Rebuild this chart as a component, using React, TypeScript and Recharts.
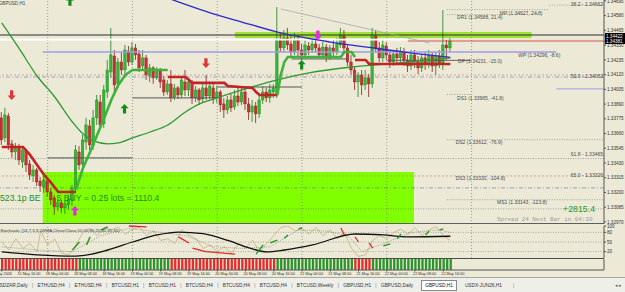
import React from 'react';
import { ComposedChart, Bar, Line, XAxis, YAxis, ReferenceLine, ReferenceArea, ReferenceDot, Cell } from 'recharts';

const BG = '#ECEAD6';
const FONT = '"Liberation Sans", Arial, sans-serif';
const MONO = '"Liberation Mono", "DejaVu Sans Mono", monospace';
const SLOTS = 171;
const XDOM: [number, number] = [-0.5, 170.5];
const PRICE_DOM: [number, number] = [1.32954, 1.34702];

// ---- candles (GBPUSD H1) ----
const opens = [1.33782,1.33626,1.33797,1.33579,1.33516,1.33555,1.33438,1.33524,1.33423,1.33329,
 1.33376,1.33290,1.33243,1.33290,1.33204,1.33158,1.33087,1.33119,1.33080,1.33103,
 1.33142,1.33228,1.33516,1.33423,1.33594,1.33719,1.33563,1.33782,1.33906,1.33735,
 1.33984,1.34140,1.34265,1.34047,1.34218,1.34156,1.34304,1.34218,1.34328,1.34281,
 1.34187,1.34250,1.34109,1.34172,1.34094,1.34148,1.34078,1.33984,1.34047,1.33945,
 1.34016,1.33961,1.34062,1.34000,1.34062,1.33938,1.34000,1.33930,1.34016,1.33953,
 1.34016,1.33938,1.33984,1.33891,1.33844,1.33922,1.33867,1.33953,1.33906,1.33984,
 1.33891,1.33828,1.33875,1.33813,1.33922,1.33984,1.33938,1.33984,1.33961,1.34390,
 1.34328,1.34406,1.34359,1.34296,1.34390,1.34312,1.34273,1.34343,1.34312,1.34359,
 1.34328,1.34273,1.34335,1.34265,1.34328,1.34296,1.34351,1.34421,1.34328,1.34218,
 1.34156,1.34062,1.34117,1.34039,1.34094,1.34047,1.34421,1.34328,1.34250,1.34343,
 1.34273,1.34218,1.34281,1.34250,1.34296,1.34234,1.34187,1.34273,1.34218,1.34172,
 1.34250,1.34203,1.34265,1.34187,1.34265,1.34203,1.34351,1.34328];
const closes = [1.33610,1.33805,1.33571,1.33516,1.33563,1.33454,1.33532,1.33415,1.33337,1.33376,
 1.33282,1.33251,1.33298,1.33204,1.33142,1.33087,1.33119,1.33080,1.33111,1.33150,
 1.33236,1.33532,1.33415,1.33610,1.33727,1.33571,1.33782,1.33922,1.33727,1.34000,
 1.34156,1.34273,1.34039,1.34218,1.34156,1.34312,1.34218,1.34328,1.34273,1.34172,
 1.34250,1.34117,1.34172,1.34094,1.34156,1.34062,1.33984,1.34047,1.33938,1.34016,
 1.33961,1.34078,1.34000,1.34062,1.33938,1.34000,1.33922,1.34016,1.33953,1.34031,
 1.33938,1.33984,1.33883,1.33844,1.33922,1.33860,1.33953,1.33906,1.33984,1.33891,
 1.33828,1.33875,1.33813,1.33922,1.33984,1.33938,1.34000,1.34016,1.34390,1.34328,
 1.34406,1.34351,1.34296,1.34390,1.34312,1.34273,1.34351,1.34312,1.34359,1.34328,
 1.34273,1.34335,1.34265,1.34328,1.34296,1.34359,1.34429,1.34328,1.34218,1.34156,
 1.34062,1.34117,1.34039,1.34094,1.34047,1.34429,1.34328,1.34250,1.34351,1.34273,
 1.34218,1.34281,1.34250,1.34296,1.34234,1.34187,1.34273,1.34218,1.34172,1.34250,
 1.34203,1.34273,1.34187,1.34265,1.34203,1.34351,1.34328,1.34382];
const highs = [1.33828,1.33860,1.33821,1.33610,1.33587,1.33579,1.33548,1.33540,1.33454,1.33415,
 1.33392,1.33321,1.33329,1.33314,1.33236,1.33181,1.33150,1.33142,1.33142,1.33181,
 1.33259,1.33571,1.33563,1.33649,1.33782,1.33766,1.33844,1.33961,1.33961,1.34039,
 1.34234,1.34484,1.34312,1.34250,1.34296,1.34351,1.34343,1.34374,1.34359,1.34312,
 1.34312,1.34273,1.34203,1.34187,1.34179,1.34172,1.34109,1.34078,1.34156,1.34047,
 1.34031,1.34109,1.34156,1.34094,1.34078,1.34031,1.34016,1.34047,1.34117,1.34062,
 1.34047,1.34031,1.34000,1.33938,1.33953,1.33969,1.34000,1.34016,1.34031,1.34016,
 1.33938,1.33922,1.33906,1.33953,1.34031,1.34016,1.34047,1.34047,1.34647,1.34445,
 1.34468,1.34484,1.34421,1.34445,1.34429,1.34359,1.34390,1.34374,1.34390,1.34406,
 1.34359,1.34374,1.34359,1.34351,1.34390,1.34406,1.34484,1.34468,1.34359,1.34273,
 1.34187,1.34140,1.34156,1.34156,1.34125,1.34484,1.34468,1.34374,1.34390,1.34374,
 1.34312,1.34312,1.34328,1.34335,1.34328,1.34273,1.34312,1.34312,1.34265,1.34281,
 1.34296,1.34312,1.34296,1.34296,1.34312,1.34624,1.34390,1.34406];
const lows = [1.33571,1.33594,1.33532,1.33470,1.33454,1.33415,1.33392,1.33360,1.33298,1.33282,
 1.33251,1.33204,1.33197,1.33165,1.33103,1.33025,1.33056,1.33041,1.33033,1.33064,
 1.33095,1.33204,1.33376,1.33392,1.33532,1.33532,1.33532,1.33727,1.33704,1.33704,
 1.33938,1.34094,1.33984,1.34016,1.34117,1.34125,1.34187,1.34195,1.34234,1.34140,
 1.34156,1.34078,1.34062,1.34047,1.34078,1.34016,1.33953,1.33961,1.33906,1.33922,
 1.33930,1.33938,1.33953,1.33953,1.33891,1.33906,1.33883,1.33899,1.33922,1.33930,
 1.33891,1.33899,1.33828,1.33782,1.33813,1.33828,1.33844,1.33875,1.33883,1.33844,
 1.33766,1.33750,1.33743,1.33782,1.33891,1.33906,1.33899,1.33938,1.33938,1.34296,
 1.34296,1.34312,1.34265,1.34273,1.34250,1.34234,1.34250,1.34273,1.34289,1.34296,
 1.34250,1.34250,1.34218,1.34234,1.34265,1.34273,1.34328,1.34296,1.34187,1.34117,
 1.34000,1.33945,1.33961,1.34000,1.33945,1.34016,1.34296,1.34218,1.34218,1.34234,
 1.34172,1.34187,1.34211,1.34218,1.34187,1.34140,1.34156,1.34172,1.34125,1.34140,
 1.34156,1.34172,1.34140,1.34117,1.34172,1.34156,1.34234,1.34296];

// ---- indicator lines (bar index, price) ----
const slowMa: [number, number][] = [[0,1.34523],[5,1.34320],[10,1.34109],[15,1.33945],[20,1.33750],[23,1.33657],[26,1.33602],[30,1.33579],[33,1.33587],[37,1.33626],[42,1.33672],[47,1.33727],[52,1.33828],[56,1.33891],[61,1.33938],[68,1.34000],[78,1.34078],[87,1.34133],[99,1.34179],[115,1.34218],[127,1.34250]];
const blueMa: [number, number][] = [[44,1.34749],[52,1.34667],[59,1.34601],[68,1.34530],[79,1.34445],[93,1.34374],[104,1.34332],[115,1.34292],[127,1.34255]];
const trendLine: [number, number][] = [[79,1.34632],[121,1.34367]];
const trailRedA: [number, number][] = [[0,1.33555],[6,1.33555],[8,1.33493],[10,1.33415],[12,1.33337],[14,1.33275],[16,1.33204],[21,1.33204]];
const trailGreenB: [number, number][] = [[21,1.33220],[23,1.33392],[25,1.33516],[27,1.33649],[29,1.33782],[31,1.33922],[33,1.34039],[35,1.34117],[37,1.34156],[47,1.34156]];
const trailRedC: [number, number][] = [[47,1.34101],[52,1.34101],[53,1.34078],[54,1.34055],[63,1.34055],[64,1.34031],[71,1.34016],[72,1.33984],[73,1.33961],[78,1.33961]];
const trailGreenD: [number, number][] = [[78,1.33961],[79,1.34117],[80,1.34218],[81,1.34257],[96,1.34257],[97,1.34296],[99,1.34296],[100,1.34257]];
const trailRedE: [number, number][] = [[100,1.34234],[103,1.34234],[104,1.34203],[127,1.34203]];

// ---- arrows (bar, price) ----
const greenUpArrows: [number, number][] = [[19.3,1.34694],[34.75,1.33852],[84.9,1.34195]];
const redDownArrows: [number, number][] = [[2.8,1.33961],[57.8,1.34211]];
const magentaDownArrows: [number, number][] = [[89.5,1.34429]];
const magentaUpArrows: [number, number][] = [[20.7,1.33056]];

// ---- axis ticks ----
const priceTicks = [1.32970,1.33085,1.33200,1.33315,1.33430,1.33545,1.33660,1.33775,1.33890,1.34005,1.34120,1.34235,1.34350,1.34465,1.34580,1.34695];
const boxedPrices = [1.34422, 1.34381];
const dayBreaks = [13, 37, 61, 85, 109, 133];
const timeTickBars = [0,5,13,21,29,37,45,53,61,69,77,85,93,101,109,117,125];
const timeTickLabels = ['15 May 2026','15 May 16:00','18 May 00:00','18 May 08:00','18 May 16:00','19 May 00:00','19 May 08:00','19 May 16:00','20 May 00:00','20 May 08:00','20 May 16:00','21 May 00:00','21 May 08:00','21 May 16:00','22 May 00:00','22 May 08:00','22 May 16:00'];
const oscTicks = [20, 50, 80, 100];

// ---- oscillator (bar, value 0..100) ----
const stochMain: [number, number][] = [[0,50],[2,25],[4,60],[6,30],[8,45],[10,20],[11,85],[13,40],[15,60],[17,15],[19,10],[21,40],[23,80],[25,92],[27,70],[29,95],[31,88],[33,96],[35,75],[37,90],[39,96],[41,70],[43,85],[45,55],[47,60],[49,45],[51,88],[53,72],[55,60],[57,30],[59,40],[61,20],[63,35],[65,15],[67,45],[69,30],[71,55],[73,20],[75,45],[77,70],[79,95],[81,100],[83,85],[85,92],[87,75],[89,95],[91,70],[93,88],[95,60],[97,80],[99,30],[101,5],[103,10],[105,55],[107,70],[109,60],[111,80],[113,90],[115,75],[117,95],[119,70],[121,88],[123,98],[125,70],[127,55]];
const stochSignal: [number, number][] = [[0,35],[10,25],[20,20],[28,70],[36,92],[44,82],[52,70],[60,35],[68,30],[76,35],[84,88],[92,84],[98,70],[102,20],[108,45],[116,80],[124,88],[127,80]];
const cycleLine: [number, number][] = [[0,19],[10,10],[21,6],[30,25],[37,50],[44,72],[50,81],[57,76],[64,55],[70,32],[75,19],[80,25],[88,41],[100,75],[108,72],[115,66],[127,68]];
const oscRedSegs: [number, number, number, number][] = [[36,100,41,97],[50,66,53,47],[54,31,58,19],[58,20,66,12],[96,94,97,72],[100,66,101,50],[104,47,105,31]];
const oscGreenSegs: [number, number, number, number][] = [[20,25,22,50],[24,41,25,66],[28,87,30,97],[72,12,74,41],[76,47,78,56],[80,62,81,72],[84,91,85,94],[108,38,110,44],[112,60,113,75],[120,72,121,84],[124,88,125,91]];

// ---- trend histogram runs (direction, bars) ----
const trendRuns: [number, number][] = [[-1,22],[1,26],[-1,30],[1,22],[-1,5],[1,23]];

// ---- tabs ----
const tabLabels = ['USDZAR,Daily','ETHUSD,H4','ETHUSD,H4','BTCUSD,H1','BTCUSD,H1','BTCUSD,H4','BTCUSD,H4','BTCUSD,H4','BTCUSD,Weekly','GBPUSD,H1','GBPUSD,Daily','GBPUSD,H1','USDX-JUN26,H1'];
const activeTab = 11;

// ---- build tables ----
const put = (rows: any[], key: string, pts: [number, number][]) => pts.forEach(([b, v]) => { rows[b][key] = v; });
const mainRows: any[] = [];
for (let i = 0; i < SLOTS; i++) {
  const r: any = { i };
  if (i < opens.length) { r.o = opens[i]; r.h = highs[i]; r.l = lows[i]; r.c = closes[i]; r.range = [lows[i], highs[i]]; }
  mainRows.push(r);
}
put(mainRows, 'ma', slowMa);
put(mainRows, 'blue', blueMa);
put(mainRows, 'tl', trendLine);
put(mainRows, 'trA', trailRedA);
put(mainRows, 'trB', trailGreenB);
put(mainRows, 'trC', trailRedC);
put(mainRows, 'trD', trailGreenD);
put(mainRows, 'trE', trailRedE);

const oscRows: any[] = [];
for (let i = 0; i < SLOTS; i++) oscRows.push({ i });
put(oscRows, 'st', stochMain);
put(oscRows, 'sg', stochSignal);
put(oscRows, 'cy', cycleLine);

const trendByBar: number[] = trendRuns.flatMap(([d, n]) => Array(n).fill(d));
const histRows: any[] = [];
for (let i = 0; i < SLOTS; i++) histRows.push({ i, hv: i < trendByBar.length ? 1 : undefined });

// ---- shapes ----
const Candle = (props: any) => {
  const { x, y, width, height, payload } = props;
  if (!payload || payload.o == null) return null;
  const { o, h, l, c } = payload;
  const top = Math.min(y, y + height);
  const hh = Math.abs(height);
  const span = h - l || 1e-9;
  const toY = (p: number) => top + ((h - p) / span) * hh;
  const up = c >= o;
  const cx = x + width / 2;
  const bTop = toY(Math.max(o, c));
  const bBot = toY(Math.min(o, c));
  const edge = up ? '#1e7d1e' : '#8a1d1d';
  return (
    <g>
      <line x1={cx} x2={cx} y1={top} y2={top + hh} stroke={edge} strokeWidth={0.8} />
      <rect x={x} y={bTop} width={width} height={Math.max(bBot - bTop, 0.8)} fill={up ? '#34b834' : '#c63030'} stroke={edge} strokeWidth={0.35} />
    </g>
  );
};

const arrowShape = (dir: 'up' | 'down', color: string) => (p: any) => {
  const s = dir === 'up' ? 1 : -1;
  const pts = [[0, -5], [4, -0.6], [1.6, -0.6], [1.6, 4.6], [-1.6, 4.6], [-1.6, -0.6], [-4, -0.6]]
    .map(([px, py]) => `${p.cx + px},${p.cy + py * s}`).join(' ');
  return <polygon points={pts} fill={color} />;
};

const textShape = (text: string, o: any) => (p: any) => (
  <text x={p.cx + (o.dx || 0)} y={p.cy + (o.dy || 0)} fontSize={o.size || 5} fill={o.color || '#4a4a4a'}
    textAnchor={o.anchor || 'start'} fontFamily={o.mono ? MONO : FONT}>{text}</text>
);

const PriceTick = (props: any) => {
  const { x, y, payload } = props;
  const v = payload.value;
  if (boxedPrices.includes(v)) {
    return (
      <g>
        <rect x={x - 2} y={y - 2.9} width={20} height={5.8} fill="#000" />
        <text x={x - 1} y={y + 1.7} fontSize={4.6} fill="#fff" fontFamily={FONT}>{v.toFixed(5)}</text>
      </g>
    );
  }
  return <text x={x} y={y + 1.7} fontSize={4.6} fill="#333" fontFamily={FONT}>{v.toFixed(5)}</text>;
};

const OscTick = (props: any) => {
  const { x, y, payload } = props;
  return <text x={x} y={y + 1.7} fontSize={4.6} fill="#333" fontFamily={FONT}>{payload.value}</text>;
};

const TimeTick = (props: any) => {
  const { x, y, payload } = props;
  const idx = timeTickBars.indexOf(payload.value);
  const first = idx === 0;
  return (
    <text x={first ? x + 10.2 : x - 2} y={y + 3.4} textAnchor={first ? 'end' : 'start'} fontSize={3.8} fill="#333" fontFamily={FONT}>
      {timeTickLabels[idx]}
    </text>
  );
};

const seg = (key: string, b1: number, b2: number, p: number, stroke: string, w: number, dash?: string) => (
  <ReferenceLine key={key} segment={[{ x: b1, y: p }, { x: b2, y: p }]} stroke={stroke} strokeWidth={w} strokeDasharray={dash} />
);

export default function App() {
  const dotGray = '#6f6f6f';
  return (
    <div style={{ position: 'absolute', left: 0, top: 0, width: 625, height: 292, background: BG, overflow: 'hidden', fontFamily: FONT }}>
      {/* main price panel */}
      <div style={{ position: 'absolute', left: 0, top: 0 }}>
        <ComposedChart width={625} height={224} data={mainRows} margin={{ top: 0, right: 0, bottom: 0, left: 0 }}>
          <XAxis dataKey="i" type="number" domain={XDOM} allowDataOverflow hide />
          <YAxis orientation="right" width={21} domain={PRICE_DOM} allowDataOverflow ticks={[...priceTicks, ...boxedPrices]}
            interval={0} tick={<PriceTick />} tickSize={2} tickMargin={1} axisLine={{ stroke: '#555' }} tickLine={{ stroke: '#555' }} />
          <ReferenceArea x1={11.6} x2={116.7} y1={1.32954} y2={1.33360} fill="#7FFF00" fillOpacity={1} stroke="none" />
          <ReferenceArea x1={66} x2={150} y1={1.34405} y2={1.34452} fill="#9FE236" fillOpacity={1} stroke="none" />
          {dayBreaks.map((b) => <ReferenceLine key={'v' + b} x={b} stroke="#7a7a7a" strokeWidth={0.7} strokeDasharray="1 2" />)}
          <ReferenceLine y={1.34429} stroke="#2d2d2d" strokeWidth={1.2} />
          <ReferenceLine y={1.34117} stroke="#c77a7a" strokeWidth={0.6} strokeDasharray="2 2" />
          <ReferenceLine y={1.34101} stroke="#6a6ab0" strokeWidth={0.6} strokeDasharray="4 2 1 2" />
          <ReferenceLine y={1.33465} stroke={dotGray} strokeWidth={0.6} strokeDasharray="1 1.5" />
          <ReferenceLine y={1.33329} stroke="#c77a7a" strokeWidth={0.6} strokeDasharray="2 2" />
          <ReferenceLine y={1.33236} stroke="#6a6ab0" strokeWidth={0.6} strokeDasharray="4 2 1 2" />
          <ReferenceLine y={1.33072} stroke={dotGray} strokeWidth={0.6} strokeDasharray="1 1.5" />
          {seg('white', -0.5, 115, 1.34393, '#ffffff', 1.6)}
          {seg('bid', 115, 170.5, 1.34382, '#d03030', 0.8)}
          {seg('wp', 11.6, 157, 1.34296, '#9c9ce8', 1.5)}
          {seg('wp2', 157, 170.5, 1.34008, '#9c9ce8', 1)}
          {seg('f382', 155, 170.5, 1.34662, dotGray, 0.6, '1 1.5')}
          {seg('mp', 126, 155, 1.34627, dotGray, 0.6, '1 1.5')}
          {seg('dr1', 126, 152, 1.34588, dotGray, 0.6, '1 1.5')}
          {seg('dp', 109, 133, 1.34231, '#555', 0.9)}
          {seg('ds1', 126, 133, 1.33965, dotGray, 0.6, '1 1.5')}
          {seg('ds2', 126, 170.5, 1.33612, dotGray, 0.6, '1 1.5')}
          {seg('ms1', 126, 170.5, 1.33143, dotGray, 0.6, '1 1.5')}
          {seg('d1', 13, 37, 1.33470, '#555', 1)}
          {seg('d2', 37, 61, 1.33938, '#555', 1)}
          {seg('d3', 61, 85, 1.34023, '#555', 1)}
          {seg('d4', 82, 98, 1.34242, '#555', 1)}
          <Bar dataKey="range" barSize={2.6} shape={(p: any) => <Candle {...p} />} isAnimationActive={false} />
          <Line dataKey="ma" type="monotone" stroke="#2f9a2f" strokeWidth={1.3} dot={false} activeDot={false} connectNulls isAnimationActive={false} />
          <Line dataKey="blue" type="monotone" stroke="#2a2ad0" strokeWidth={1.3} dot={false} activeDot={false} connectNulls isAnimationActive={false} />
          <Line dataKey="tl" type="linear" stroke="#a8a8a8" strokeWidth={0.8} dot={false} activeDot={false} connectNulls isAnimationActive={false} />
          <Line dataKey="trA" type="linear" stroke="#c02424" strokeWidth={2.6} dot={false} activeDot={false} connectNulls isAnimationActive={false} />
          <Line dataKey="trB" type="linear" stroke="#3cb43c" strokeWidth={2.6} dot={false} activeDot={false} connectNulls isAnimationActive={false} />
          <Line dataKey="trC" type="linear" stroke="#c02424" strokeWidth={2.6} dot={false} activeDot={false} connectNulls isAnimationActive={false} />
          <Line dataKey="trD" type="linear" stroke="#3cb43c" strokeWidth={2.6} dot={false} activeDot={false} connectNulls isAnimationActive={false} />
          <Line dataKey="trE" type="linear" stroke="#c02424" strokeWidth={2.6} dot={false} activeDot={false} connectNulls isAnimationActive={false} />
          {greenUpArrows.map(([b, p], k) => <ReferenceDot key={'gu' + k} x={b} y={p} r={4} shape={arrowShape('up', '#178a17')} />)}
          {redDownArrows.map(([b, p], k) => <ReferenceDot key={'rd' + k} x={b} y={p} r={4} shape={arrowShape('down', '#e23434')} />)}
          {magentaDownArrows.map(([b, p], k) => <ReferenceDot key={'md' + k} x={b} y={p} r={4} shape={arrowShape('down', '#ee22ee')} />)}
          {magentaUpArrows.map(([b, p], k) => <ReferenceDot key={'mu' + k} x={b} y={p} r={4} shape={arrowShape('up', '#ee22ee')} />)}
          <ReferenceDot x={0} y={1.34672} r={1} shape={textShape('GBPUSD,H1', { dx: -3, dy: 1.5, size: 4.6, color: '#444' })} />
          <ReferenceDot x={170.5} y={1.34662} r={1} shape={textShape('38.2 - 1.34662', { anchor: 'end', dx: -1, dy: 1.2 })} />
          <ReferenceDot x={141} y={1.34627} r={1} shape={textShape('MP (1.34627, 24.8)', { dy: 5 })} />
          <ReferenceDot x={128.9} y={1.34588} r={1} shape={textShape('DR1 (1.34588, 21.4)', { dy: 4 })} />
          <ReferenceDot x={146.2} y={1.34296} r={1} shape={textShape('WP (1.34296, -8.6)', { dy: 4.8 })} />
          <ReferenceDot x={129.2} y={1.34231} r={1} shape={textShape('DP (1.34231, -15.0)', { dy: 2.6 })} />
          <ReferenceDot x={170.5} y={1.34063} r={1} shape={textShape('50.0 - 1.34063', { anchor: 'end', dx: -1, dy: -3.5 })} />
          <ReferenceDot x={128.9} y={1.33965} r={1} shape={textShape('DS1 (1.33965, -41.8)', { dy: 5.3 })} />
          <ReferenceDot x={128.5} y={1.33612} r={1} shape={textShape('DS2 (1.33612, -76.9)', { dy: 4.2 })} />
          <ReferenceDot x={170.5} y={1.33465} r={1} shape={textShape('61.8 - 1.33465', { anchor: 'end', dx: -1, dy: -2.5 })} />
          <ReferenceDot x={170.5} y={1.33326} r={1} shape={textShape('65.0 - 1.33326', { anchor: 'end', dx: -1, dy: 0.5 })} />
          <ReferenceDot x={128.5} y={1.33330} r={1} shape={textShape('DS3 (1.33330, -104.8)', { dy: 4.6 })} />
          <ReferenceDot x={140.2} y={1.33143} r={1} shape={textShape('MS1 (1.33143, -123.8)', { dy: 4.6 })} />
          <ReferenceDot x={158.9} y={1.33072} r={1} shape={textShape('+2815.4', { dy: 3, size: 8.8, color: '#2a962a' })} />
          <ReferenceDot x={140.2} y={1.32986} r={1} shape={textShape('Spread  24  Next Bar in 04:30', { dy: 1.2, size: 5.9, color: '#9a9a9a', mono: true })} />
          <ReferenceDot x={0} y={1.33134} r={1} shape={textShape('523.1p BE', { dx: -1.8, dy: 0, size: 8.7, color: '#1f8f1f' })} />
          <ReferenceDot x={15.5} y={1.33134} r={1} shape={textShape('5 BUY = 0.25 lots = 1110.4', { dy: 0, size: 8.7, color: '#1f8f1f' })} />
        </ComposedChart>
      </div>
      <div style={{ position: 'absolute', left: 0, top: 223, width: 604, height: 1, background: '#5e5e5e' }} />

      {/* oscillator panel */}
      <div style={{ position: 'absolute', left: 0, top: 224 }}>
        <ComposedChart width={625} height={34} data={oscRows} margin={{ top: 2, right: 0, bottom: 0, left: 0 }}>
          <XAxis dataKey="i" type="number" domain={XDOM} allowDataOverflow hide />
          <YAxis orientation="right" width={21} domain={[0, 100]} allowDataOverflow ticks={oscTicks} interval={0}
            tick={<OscTick />} tickSize={2} tickMargin={1} axisLine={{ stroke: '#555' }} tickLine={{ stroke: '#555' }} />
          {dayBreaks.map((b) => <ReferenceLine key={'ov' + b} x={b} stroke="#7a7a7a" strokeWidth={0.7} strokeDasharray="1 2" />)}
          {[80, 50, 20].map((v) => <ReferenceLine key={'lv' + v} y={v} stroke="#7a7a7a" strokeWidth={0.6} strokeDasharray="1 1.5" />)}
          <Line dataKey="st" type="linear" stroke="#c4b07a" strokeWidth={0.8} dot={false} activeDot={false} connectNulls isAnimationActive={false} />
          <Line dataKey="sg" type="linear" stroke="#777" strokeWidth={0.6} strokeDasharray="1 1" dot={false} activeDot={false} connectNulls isAnimationActive={false} />
          <Line dataKey="cy" type="monotone" stroke="#111" strokeWidth={1.3} dot={false} activeDot={false} connectNulls isAnimationActive={false} />
          {oscRedSegs.map(([b1, v1, b2, v2], k) => (
            <ReferenceLine key={'rs' + k} segment={[{ x: b1, y: v1 }, { x: b2, y: v2 }]} stroke="#e02828" strokeWidth={1.3} />
          ))}
          {oscGreenSegs.map(([b1, v1, b2, v2], k) => (
            <ReferenceLine key={'gs' + k} segment={[{ x: b1, y: v1 }, { x: b2, y: v2 }]} stroke="#1c961c" strokeWidth={1.3} />
          ))}
          <ReferenceDot x={0} y={87} r={1} shape={textShape('Stochastic (14,7,3,3,LWMA,Close/Close,50,50,80,20,40,65,65)', { dx: -1.5, dy: 1.5, size: 4.3, color: '#333' })} />
        </ComposedChart>
      </div>
      <div style={{ position: 'absolute', left: 0, top: 258, width: 604, height: 1, background: '#4a4a4a' }} />

      {/* trend histogram + time axis */}
      <div style={{ position: 'absolute', left: 0, top: 258 }}>
        <ComposedChart width={625} height={19} data={histRows} margin={{ top: 1, right: 0, bottom: 0, left: 0 }}>
          <XAxis dataKey="i" type="number" domain={XDOM} allowDataOverflow ticks={timeTickBars} interval={0} height={7}
            tick={<TimeTick />} tickSize={1.5} tickMargin={0} axisLine={{ stroke: '#555' }} tickLine={{ stroke: '#555' }} />
          <YAxis orientation="right" width={21} domain={[0, 1]} allowDataOverflow tick={false} tickLine={false} axisLine={{ stroke: '#555' }} />
          <Bar dataKey="hv" barSize={2.3} isAnimationActive={false}>
            {histRows.map((r, k) => (
              <Cell key={k} fill={k < trendByBar.length ? (trendByBar[k] > 0 ? '#2a962a' : '#ea2a2a') : 'none'} />
            ))}
          </Bar>
        </ComposedChart>
      </div>

      {/* tab bar */}
      <div style={{ position: 'absolute', left: 0, top: 277, width: 625, height: 15, background: '#EFEFEA', borderTop: '1px solid #a8a8a0', boxSizing: 'border-box', display: 'flex', alignItems: 'center', fontSize: 4.8, color: '#333', whiteSpace: 'nowrap' }}>
        <div style={{ display: 'flex', alignItems: 'center', marginLeft: -4 }}>
          {tabLabels.map((t, k) => {
            const active = k === activeTab;
            const sepAfter = k < tabLabels.length - 1 && k !== activeTab && k + 1 !== activeTab;
            return (
              <React.Fragment key={k}>
                <span style={active
                  ? { background: '#fff', border: '1px solid #8a8a8a', padding: '2px 3.5px', margin: '0 0.5px', color: '#111' }
                  : {}}>{t}</span>
                {sepAfter ? <span style={{ padding: '0 4.3px', color: '#777' }}>|</span> : <span style={{ padding: '0 3.5px' }} />}
              </React.Fragment>
            );
          })}
          <span style={{ color: '#777', padding: '0 4px' }}>|</span>
        </div>
        <div style={{ position: 'absolute', right: 3, color: '#666', fontSize: 5 }}>◂ ▸</div>
      </div>
    </div>
  );
}
